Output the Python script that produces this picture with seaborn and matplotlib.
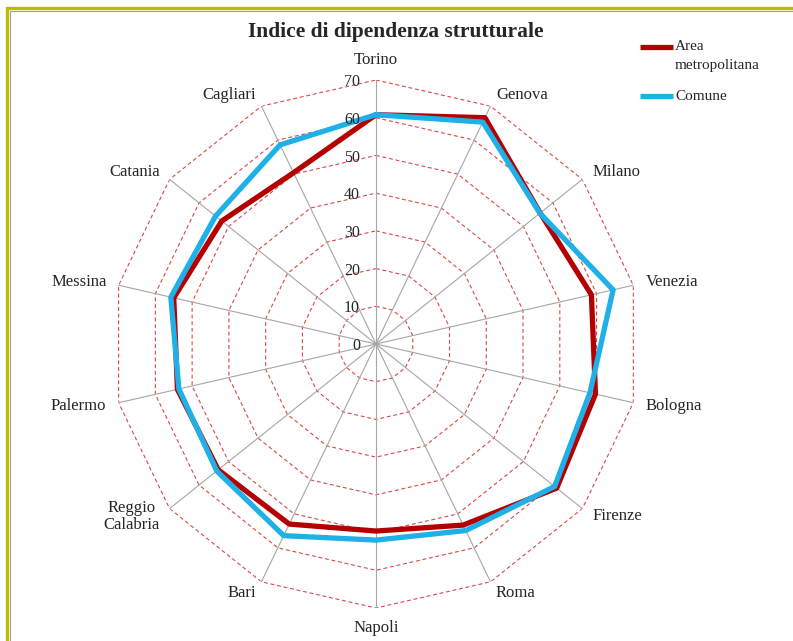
import numpy as np
import pandas as pd
import matplotlib
matplotlib.use('Agg')
import matplotlib.pyplot as plt
import seaborn as sns
from matplotlib.lines import Line2D
from matplotlib.patches import Rectangle

# dati
citta = ['Torino', 'Genova', 'Milano', 'Venezia', 'Bologna', 'Firenze', 'Roma',
         'Napoli', 'Bari', 'Reggio\nCalabria', 'Palermo', 'Messina', 'Catania', 'Cagliari']
area_metro = [60.8, 66.6, 55.7, 58.6, 59.7, 61.3, 53.3, 49.6, 53.0, 53.5, 54.0, 55.0, 52.3, 50.4]
comune = [60.8, 65.3, 55.6, 64.5, 58.2, 60.6, 54.9, 52.0, 56.4, 54.0, 53.6, 55.8, 54.4, 58.6]
livelli = [0, 10, 20, 30, 40, 50, 60, 70]

sns.set_style('white')
plt.rcParams['font.family'] = ['Liberation Serif', 'DejaVu Serif']

n = len(citta)
theta = np.arange(n) * 2 * np.pi / n
theta_c = np.append(theta, 2 * np.pi)

df = pd.concat([
    pd.DataFrame({'theta': theta_c, 'val': area_metro + area_metro[:1], 'serie': 'Area metropolitana'}),
    pd.DataFrame({'theta': theta_c, 'val': comune + comune[:1], 'serie': 'Comune'}),
])

fig = plt.figure(figsize=(7.93, 6.41), dpi=100)
ax = fig.add_axes([0.1412, 0.0515, 0.6658, 0.8237], projection='polar')
ax.set_theta_zero_location('N')
ax.set_theta_direction(-1)
ax.grid(False)
ax.spines['polar'].set_visible(False)

# griglia poligonale tratteggiata
for lv in livelli[1:]:
    ax.plot(theta_c, [lv] * (n + 1), color='#D84848', lw=0.8, ls=(0, (3.5, 2.5)), zorder=1)
# raggi
for t in theta:
    ax.plot([t, t], [0, 70], color='#A6A6A6', lw=0.8, zorder=1)

sns.lineplot(data=df, x='theta', y='val', hue='serie', sort=False, estimator=None,
             palette={'Area metropolitana': '#B40000', 'Comune': '#1EB0E6'},
             lw=3.8, ax=ax, legend=False, zorder=3)

ax.set_ylim(0, 70)
ax.set_xticks([])
ax.set_yticks([])
ax.set_xlabel('')
ax.set_ylabel('')

# etichette asse radiale
for lv in livelli:
    ax.annotate(str(lv), (0, lv), xytext=(-11.5, -1.5), textcoords='offset points',
                ha='right', va='center', fontsize=11.5)

# etichette categorie
for t, c in zip(theta, citta):
    s, co = np.sin(t), np.cos(t)
    ha = 'left' if s > 0.1 else ('right' if s < -0.1 else 'center')
    va = 'center'
    if abs(s) < 0.1:
        va = 'bottom' if co > 0 else 'top'
    d = 9
    ax.annotate(c, (t, 70), xytext=(d * s, d * co), textcoords='offset points',
                ha=ha, va=va, fontsize=12, linespacing=1.05,
                multialignment='center')

fig.text(0.4994, 0.9500, 'Indice di dipendenza strutturale', ha='center', va='center',
         fontsize=15.5, fontweight='bold')

# legenda
def px(x, y):
    return x / 793, 1 - y / 641

for y, col, lab in [(47, '#B40000', 'Area'), (96, '#1EB0E6', 'Comune')]:
    x0, y0 = px(640, y)
    x1, _ = px(673, y)
    fig.add_artist(Line2D([x0, x1], [y0, y0], color=col, lw=3.8, solid_capstyle='butt',
                          transform=fig.transFigure))
    fig.text(px(675, y)[0], y0, lab, ha='left', va='center', fontsize=11)
fig.text(px(675, 66)[0], px(675, 66)[1], 'metropolitana', ha='left', va='center', fontsize=11)

# cornice
fig.add_artist(Rectangle((6.5 / 793, -0.1), 1.2, 1.1 - 8 / 641, fill=False,
                         edgecolor='#BDBD00', lw=2.4, transform=fig.transFigure))
fig.add_artist(Rectangle((9.5 / 793, -0.1), 1.2, 1.1 - 10.5 / 641, fill=False,
                         edgecolor='#A0A0A0', lw=0.8, transform=fig.transFigure))

fig.savefig('out.png', dpi=100)
